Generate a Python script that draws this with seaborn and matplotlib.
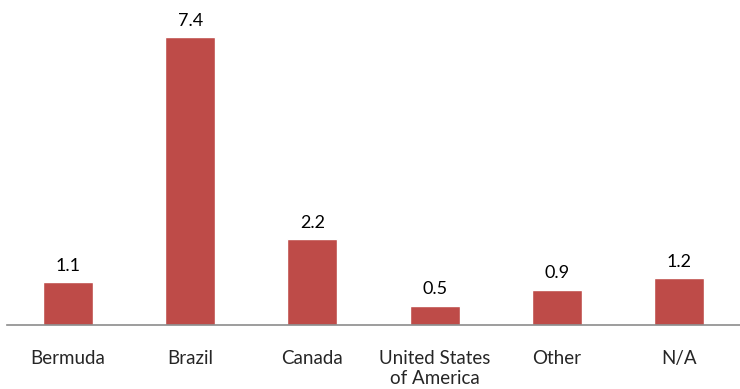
import pandas as pd
import matplotlib
matplotlib.use("Agg")
import matplotlib.pyplot as plt
import seaborn as sns

countries = ["Bermuda", "Brazil", "Canada", "United States\nof America", "Other", "N/A"]
values = [1.1, 7.4, 2.2, 0.5, 0.9, 1.2]

df = pd.DataFrame({"country": countries, "value": values})

sns.set_style("white")
plt.rcParams['font.family'] = ['Lato', 'DejaVu Sans']

fig = plt.figure(figsize=(7.4, 3.89), dpi=100)
ax = fig.add_axes([0.0095, 0.1645, 0.9905, 0.80])

sns.barplot(data=df, x="country", y="value", color="#BE4B48", saturation=1,
            width=0.41, ax=ax)

for i, v in enumerate(values):
    ax.text(i, v + 0.22, f"{v:.1f}", ha="center", va="bottom", fontsize=13, color="#000000")

ax.set_ylim(0, 8)
ax.set_xlim(-0.5, 5.5)
ax.set_xlabel("")
ax.set_ylabel("")
ax.set_yticks([])
ax.tick_params(axis="x", length=0, pad=18, labelsize=13.5)
for lbl in ax.get_xticklabels():
    lbl.set_linespacing(1.2)
for s in ["top", "right", "left"]:
    ax.spines[s].set_visible(False)
ax.spines["bottom"].set_color("#8c8c8c")
ax.spines["bottom"].set_linewidth(1.2)

fig.savefig("out.png", dpi=100)
